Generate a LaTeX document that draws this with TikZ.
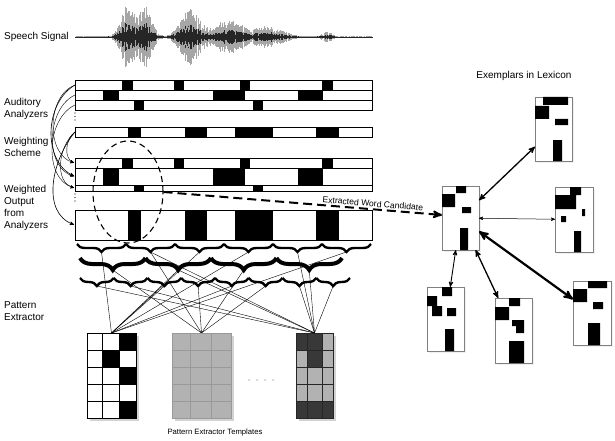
\documentclass[tikz,border=0pt]{standalone}
\usepackage{fontspec}
\setmainfont{Liberation Sans}
\usetikzlibrary{arrows,calc,decorations.pathreplacing,shadows,shapes.geometric}
\definecolor{tgray}{HTML}{B2B2B2}
\definecolor{tline}{HTML}{999999}
\definecolor{tdark}{HTML}{383838}

\begin{document}
\begin{tikzpicture}[x=1pt,y=-1pt,>=stealth',
    bar/.style={draw,line width=0.8pt,inner sep=0pt,outer sep=0pt,minimum width=297pt,anchor=north west},
    lbl/.style={anchor=west,align=left,inner sep=1pt,font=\fontsize{10}{12}\selectfont},
    wt/.style={->,thin,shorten >=1pt},
    brc/.style={decorate,decoration={brace,mirror,amplitude=#1}},
    link/.style={line width=0.4pt},
    tmpl/.style={draw,line width=1pt,inner sep=0pt,outer sep=0pt,anchor=north west,minimum height=85pt,
        drop shadow={shadow xshift=2.5pt,shadow yshift=-2.5pt,opacity=0.35}},
    ex/.style={draw=gray,line width=0.8pt,fill=white,inner sep=0pt,outer sep=0pt,anchor=north west,
        drop shadow={shadow xshift=1.5pt,shadow yshift=-1.5pt,opacity=0.12}},
    xarr/.style={<->,line width=#1},
    declare function={g(\x,\c,\s)=exp(-min(((\x-\c)/\s)*((\x-\c)/\s),15));
      env(\x)=0.8+30*g(\x,127,9)+31*g(\x,145,9)+27*g(\x,190,13)+18*g(\x,228,18)+10*g(\x,268,20)+5*g(\x,327,6);}]
\useasboundingbox (0,0) rectangle (615,441);

% speech signal
\node[lbl] (sig) at (3,37) {Speech Signal};
\pgfmathsetseed{3}
\foreach \x in {75,75.5,...,372}{
  \pgfmathsetmacro\amp{env(\x)*(0.3+0.7*rnd)}
  \draw[gray!70,line width=0.5pt] (\x,37-\amp) -- (\x,37+\amp);
  \draw[black!85,line width=0.4pt] (\x,37-0.45*\amp) -- (\x,37+0.45*\amp);
}

% auditory analyzers
\node[bar,minimum height=10pt] (r1) at (75,80) {};
\foreach \a/\b in {122/133,174/184,240/250,322/333} \fill (\a,80) rectangle (\b,90);
\node[bar,minimum height=10pt] (r2) at (75,90) {};
\foreach \a/\b in {103/119,213/245,298/323} \fill (\a,90) rectangle (\b,100);
\node[bar,minimum height=10pt] (r3) at (75,100) {};
\foreach \a/\b in {134/144,253/263} \fill (\a,100) rectangle (\b,110);
\foreach \y in {113,116.5,120} \fill (75,\y) circle (0.6);

% weighting scheme
\node[bar,minimum height=10pt] (w) at (75,127) {};
\foreach \a/\b in {128/141,185/207,235/273,316/339} \fill (\a,127) rectangle (\b,137);

% weighted output
\node[bar,minimum height=10pt] (o1) at (75,158) {};
\foreach \a/\b in {122/133,174/184,240/250,322/333} \fill (\a,158) rectangle (\b,168);
\node[bar,minimum height=17pt] (o2) at (75,168) {};
\foreach \a/\b in {103/119,213/245,298/323} \fill (\a,168) rectangle (\b,185);
\node[bar,minimum height=6pt] (o3) at (75,185) {};
\foreach \a/\b in {134/144,253/263} \fill (\a,185) rectangle (\b,191);
\foreach \y in {194,197.5,201} \fill (75,\y) circle (0.6);
\node[bar,minimum height=30pt] (o4) at (75,210) {};
\foreach \a/\b in {128/141,185/207,235/273,316/339} \fill (\a,210) rectangle (\b,240);

% labels
\node[lbl] (aud) at (3,109) {Auditory\\Analyzers};
\node[lbl] (wsch) at (3,147) {Weighting\\Scheme};
\node[lbl] (wout) at (3,208) {Weighted\\Output\\from\\Analyzers};
\node[lbl] (pext) at (3,311) {Pattern\\Extractor};

% weighting
\draw[wt] (r1.west) to[out=200,in=165] (o1.west);
\draw[wt] (r2.west) to[out=205,in=165] (o2.west);
\draw[wt] (r3.west) to[out=205,in=165] (o3.west);
\draw[wt] (w.west) to[out=215,in=160] (o1.west);
\draw[wt] (w.west) to[out=220,in=165] (o3.west);
\draw[wt,semithick] (r1.west) to[out=210,in=155] (o2.west);
\draw[wt,semithick] (w.west) to[out=230,in=160] (o4.west);

% candidate
\node[draw,ellipse,line width=1.1pt,dash pattern=on 6pt off 4pt,minimum width=70pt,minimum height=102pt,inner sep=0pt] (cand) at (128,192) {};

% braces
\foreach \i in {0,...,5}{
  \draw[brc=8pt,line width=2.4pt] ({77+49*\i},244) -- ({126+49*\i},244);
  \coordinate (a\i) at ({101.5+49*\i},252);
}
\foreach \i in {0,...,3}{
  \draw[brc=12pt,line width=4pt] ({80+65.5*\i},258) -- ({145.5+65.5*\i},258);
  \coordinate (b\i) at ({112.75+65.5*\i},270);
}
\foreach \i in {0,...,7}{
  \draw[brc=8pt,line width=2.4pt] ({80+33.75*\i},278) -- ({113.75+33.75*\i},278);
  \coordinate (c\i) at ({96.9+33.75*\i},286);
}

% templates
\coordinate (t1top) at (111.5,333);
\coordinate (t2top) at (201.5,333);
\coordinate (t3top) at (314.5,333);
\foreach \s in {a0,a2,a3,a5,b1,c2,c4} \draw[link] (\s) -- (t1top);
\foreach \s in {a1,b0,b2,c3,c5} \draw[link] (\s) -- (t2top);
\foreach \s in {c0,c1,a1,b1,a4,b3,c6,c7} \draw[link] (\s) -- (t3top);

\node[tmpl,minimum width=49pt,fill=white] (t1) at (87,333) {};
\fill (119,333) rectangle (136,350);
\fill (102,350) rectangle (119,367);
\fill (119,367) rectangle (136,384);
\fill (119,401) rectangle (136,418);
\draw[line width=1pt] (102,333) -- (102,418) (119,333) -- (119,418);
\foreach \y in {350,367,384,401} \draw[line width=1pt] (87,\y) -- (136,\y);
\draw[line width=1pt] (87,333) rectangle (136,418);

\node[tmpl,minimum width=59pt,fill=tgray,draw=tline] (t2) at (172,333) {};
\draw[tline,line width=1pt] (190,333) -- (190,418) (211,333) -- (211,418);
\foreach \y in {350,367,384,401} \draw[tline,line width=1pt] (172,\y) -- (231,\y);

\node[tmpl,minimum width=37pt,fill=tgray,draw=black!85] (t3) at (296,333) {};
\fill[tdark] (296,333) rectangle (322,350);
\fill[tdark] (307,350) rectangle (322,367);
\fill[tdark] (296,401) rectangle (333,418);
\draw[black!85,line width=1pt] (307,333) -- (307,418) (322,333) -- (322,418);
\foreach \y in {350,367,384,401} \draw[black!85,line width=1pt] (296,\y) -- (333,\y);
\draw[black!85,line width=1pt] (296,333) rectangle (333,418);

\foreach \x in {249,257,265,273} \fill[black!60] (\x,380) circle (0.6);
\node[font=\fontsize{7.7}{9}\selectfont] (ptl) at (215,433) {Pattern Extractor Templates};

% exemplars in lexicon
\node[font=\fontsize{10}{12}\selectfont] (lex) at (524,76) {Exemplars in Lexicon};

\node[ex,minimum width=37pt,minimum height=64pt] (e0) at (442,186) {};
\fill (456,186) rectangle (466,193) (442,194) rectangle (455,207)
      (462,207) rectangle (471,213) (460,228) rectangle (468,250);
\node[ex,minimum width=37pt,minimum height=64pt] (e1) at (535,97) {};
\fill (543,97) rectangle (568,105) (535,106) rectangle (549,119)
      (555,119) rectangle (568,125) (553,140) rectangle (562,161);
\node[ex,minimum width=38pt,minimum height=65pt] (e2) at (555,187) {};
\fill (570,187) rectangle (581,195) (555,195) rectangle (576,209)
      (582,209) rectangle (585,216) (561,216) rectangle (566,222) (574,231) rectangle (581,252);
\node[ex,minimum width=37pt,minimum height=64pt] (e3) at (427,287) {};
\fill (442,287) rectangle (452,296) (427,296) rectangle (437,306)
      (432,306) rectangle (442,316) (447,308) rectangle (456,316) (445,329) rectangle (454,351);
\node[ex,minimum width=37pt,minimum height=65pt] (e4) at (495,298) {};
\fill (509,298) rectangle (520,306) (495,307) rectangle (509,320)
      (512,320) rectangle (524,326) (516,326) rectangle (524,333) (509,341) rectangle (524,363);
\node[ex,minimum width=38pt,minimum height=64pt] (e5) at (573,281) {};
\fill (588,281) rectangle (607,288) (573,289) rectangle (587,302)
      (593,302) rectangle (603,309) (588,323) rectangle (600,345);

\draw[xarr=1.3pt] (e0) -- (e1);
\draw[xarr=0.5pt] (e0) -- (e2);
\draw[xarr=0.9pt] (e0) -- (e3);
\draw[xarr=1.3pt] (e0) -- (e4);
\draw[xarr=2.2pt] (e0) -- (e5);

\draw[->,line width=2pt,dash pattern=on 9pt off 5pt] (cand.east) -- ([yshift=3pt]e0.west)
  node[pos=0.75,above,sloped,inner sep=1.5pt,font=\fontsize{8.6}{10}\selectfont] (ewc) {Extracted Word Candidate};
\end{tikzpicture}
\end{document}
